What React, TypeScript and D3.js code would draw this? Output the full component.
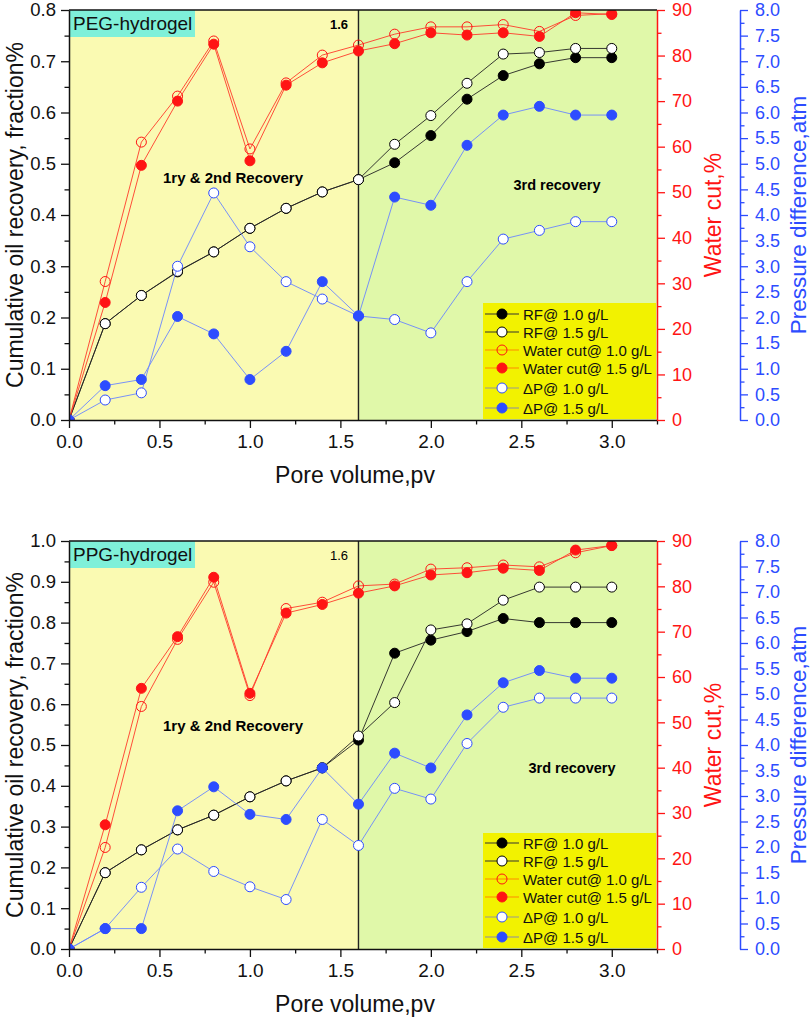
import * as d3 from "d3";
import { useEffect, useRef } from "react";

// pore volume injected (x values shared by every series)
const poreVolume = [0, 0.2, 0.4, 0.6, 0.8, 1.0, 1.2, 1.4, 1.6, 1.8, 2.0, 2.2, 2.4, 2.6, 2.8, 3.0];

// PEG-hydrogel panel
const pegRF10 = [0, 0.188, 0.243, 0.289, 0.328, 0.374, 0.413, 0.445, 0.469, 0.502, 0.555, 0.626, 0.672, 0.695, 0.707, 0.707];
const pegRF15 = [0, 0.188, 0.243, 0.29, 0.328, 0.374, 0.413, 0.445, 0.469, 0.538, 0.594, 0.657, 0.714, 0.717, 0.725, 0.725];
const pegWC10 = [0, 30.4, 61.0, 71.1, 83.2, 59.5, 74.0, 80.1, 82.3, 84.7, 86.3, 86.3, 86.8, 85.3, 88.8, 89.2];
const pegWC15 = [0, 25.8, 55.9, 70.0, 82.5, 56.9, 73.5, 78.4, 81.0, 82.6, 85.0, 84.5, 85.0, 84.2, 89.4, 89.0];
const pegDP10 = [0, 0.39, 0.53, 3.0, 4.43, 3.38, 2.7, 2.36, 2.03, 1.96, 1.7, 2.7, 3.53, 3.7, 3.87, 3.87];
const pegDP15 = [0, 0.67, 0.79, 2.02, 1.68, 0.79, 1.34, 2.7, 2.03, 4.35, 4.19, 5.36, 5.95, 6.12, 5.95, 5.95];

// PPG-hydrogel panel
const ppgRF10 = [0, 0.187, 0.243, 0.292, 0.328, 0.373, 0.412, 0.444, 0.512, 0.725, 0.757, 0.778, 0.81, 0.8, 0.8, 0.8];
const ppgRF15 = [0, 0.187, 0.243, 0.292, 0.328, 0.373, 0.412, 0.444, 0.522, 0.604, 0.782, 0.797, 0.855, 0.887, 0.887, 0.887];
const ppgWC10 = [0, 22.4, 53.5, 68.3, 80.9, 55.9, 75.1, 76.5, 80.1, 80.5, 83.8, 84.1, 84.7, 84.3, 87.4, 89.0];
const ppgWC15 = [0, 27.4, 57.5, 68.9, 82.0, 56.4, 74.1, 76.0, 78.5, 80.1, 82.5, 83.0, 84.0, 83.5, 88.0, 89.0];
const ppgDP10 = [0, 0.4, 1.21, 1.96, 1.52, 1.22, 0.97, 2.54, 2.03, 3.15, 2.94, 4.03, 4.74, 4.92, 4.92, 4.92];
const ppgDP15 = [0, 0.4, 0.4, 2.71, 3.18, 2.64, 2.54, 3.55, 2.84, 3.84, 3.55, 4.59, 5.22, 5.46, 5.31, 5.31];

const legendLabels = ["RF@ 1.0 g/L", "RF@ 1.5 g/L", "Water cut@ 1.0 g/L", "Water cut@ 1.5 g/L", "\u0394P@ 1.0 g/L", "\u0394P@ 1.5 g/L"];

const FONT = "'Liberation Sans', Arial, sans-serif";
const RED = "#ff1414";
const BLUE = "#2d4cff";

interface SeriesStyle {
  axis: "left" | "red" | "blue";
  line: string;
  legendLine: string;
  fill: string;
  stroke: string;
}

const styles: SeriesStyle[] = [
  { axis: "left", line: "#222", legendLine: "#333", fill: "#000", stroke: "#000" },
  { axis: "left", line: "#222", legendLine: "#333", fill: "#fff", stroke: "#000" },
  { axis: "red", line: "#ff3a2a", legendLine: "#ff8a00", fill: "none", stroke: RED },
  { axis: "red", line: "#ff3a2a", legendLine: "#ff8a00", fill: RED, stroke: RED },
  { axis: "blue", line: "#6a86ff", legendLine: "#9a9a90", fill: "#fff", stroke: BLUE },
  { axis: "blue", line: "#6a86ff", legendLine: "#8a8aa8", fill: BLUE, stroke: BLUE },
];

interface Panel {
  id: string;
  top: number;
  bottom: number;
  leftMax: number;
  label: string;
  noteBold: boolean;
  series: number[][];
  recoveryY: number;
  thirdX: number;
  thirdY: number;
  legendTop: number;
  legendRows: number[];
}

const panels: Panel[] = [
  {
    id: "peg", top: 10, bottom: 420, leftMax: 0.8, label: "PEG-hydrogel", noteBold: true,
    series: [pegRF10, pegRF15, pegWC10, pegWC15, pegDP10, pegDP15],
    recoveryY: 183, thirdX: 557, thirdY: 190, legendTop: 303,
    legendRows: [314, 332, 350, 368, 388, 408],
  },
  {
    id: "ppg", top: 541, bottom: 949, leftMax: 1.0, label: "PPG-hydrogel", noteBold: false,
    series: [ppgRF10, ppgRF15, ppgWC10, ppgWC15, ppgDP10, ppgDP15],
    recoveryY: 731, thirdX: 572, thirdY: 773, legendTop: 833,
    legendRows: [843, 861, 879, 897, 917, 937],
  },
];

const X0 = 69;
const X1 = 657;
const XB = 740;

function drawPanel(svg: d3.Selection<SVGSVGElement, unknown, null, undefined>, p: Panel) {
  const x = d3.scaleLinear().domain([0, 3.25]).range([X0, X1]);
  const yL = d3.scaleLinear().domain([0, p.leftMax]).range([p.bottom, p.top]);
  const yR = d3.scaleLinear().domain([0, 90]).range([p.bottom, p.top]);
  const yB = d3.scaleLinear().domain([0, 8]).range([p.bottom, p.top]);
  const scaleFor = { left: yL, red: yR, blue: yB };
  const g = svg.append("g");

  // two shaded recovery stages
  g.append("rect").attr("x", x(0)).attr("y", p.top).attr("width", x(1.6) - x(0))
    .attr("height", p.bottom - p.top).attr("fill", "#fafab2");
  g.append("rect").attr("x", x(1.6)).attr("y", p.top).attr("width", x(3.25) - x(1.6))
    .attr("height", p.bottom - p.top).attr("fill", "#e0f8a9");
  g.append("line").attr("x1", x(1.6)).attr("x2", x(1.6)).attr("y1", p.top).attr("y2", p.bottom)
    .attr("stroke", "#222").attr("stroke-width", 1.4);

  // hydrogel label box
  g.append("rect").attr("x", X0).attr("y", p.top).attr("width", 126).attr("height", 27).attr("fill", "#7ff0d9");
  g.append("text").attr("x", X0 + 4).attr("y", p.top + 20).text(p.label)
    .style("font-family", FONT).style("font-size", "19px").attr("fill", "#111");
  g.append("text").attr("x", 339).attr("y", p.top + 19).attr("text-anchor", "middle").text("1.6")
    .style("font-family", FONT).style("font-size", "13px").style("font-weight", p.noteBold ? "bold" : "normal");
  g.append("text").attr("x", 233).attr("y", p.recoveryY).attr("text-anchor", "middle").text("1ry & 2nd Recovery")
    .style("font-family", FONT).style("font-size", "15px").style("font-weight", "bold");
  g.append("text").attr("x", p.thirdX).attr("y", p.thirdY).attr("text-anchor", "middle").text("3rd recovery")
    .style("font-family", FONT).style("font-size", "14.5px").style("font-weight", "bold");

  // series
  const clipId = `clip-${p.id}`;
  svg.append("clipPath").attr("id", clipId).append("rect")
    .attr("x", X0).attr("y", p.top).attr("width", X1 - X0).attr("height", p.bottom - p.top);
  const plot = g.append("g").attr("clip-path", `url(#${clipId})`);
  p.series.forEach((vals, i) => {
    const st = styles[i];
    const ys = scaleFor[st.axis];
    const line = d3.line<number>().x((_d, j) => x(poreVolume[j])).y(d => ys(d));
    plot.append("path").attr("d", line(vals)).attr("fill", "none")
      .attr("stroke", st.line).attr("stroke-width", 0.9);
    plot.selectAll(null).data(vals).enter().append("circle")
      .attr("cx", (_d, j) => x(poreVolume[j])).attr("cy", d => ys(d)).attr("r", 5)
      .attr("fill", st.fill).attr("stroke", st.stroke).attr("stroke-width", 1);
  });

  // frame
  g.append("line").attr("x1", X0).attr("x2", X1).attr("y1", p.top).attr("y2", p.top)
    .attr("stroke", "#111").attr("stroke-width", 1.5);

  const styleAxis = (sel: d3.Selection<SVGGElement, unknown, null, undefined>, color: string, size: string) => {
    sel.selectAll("path").attr("stroke", color).attr("stroke-width", 1.5);
    sel.selectAll("line").attr("stroke", color).attr("stroke-width", 1.3);
    sel.selectAll("text").attr("fill", color).style("font-family", FONT).style("font-size", size);
  };
  const step = (lo: number, hi: number, s: number) => d3.range(Math.round((hi - lo) / s) + 1).map(k => +(lo + k * s).toFixed(4));

  // left axis
  const minorL = g.append("g").attr("transform", `translate(${X0},0)`)
    .call(d3.axisLeft(yL).tickValues(step(0.05, p.leftMax, 0.1).filter(v => v < p.leftMax)).tickSize(4.5).tickSizeOuter(0).tickFormat(() => ""));
  minorL.select(".domain").remove();
  styleAxis(minorL, "#111", "18.5px");
  const axL = g.append("g").attr("transform", `translate(${X0},0)`)
    .call(d3.axisLeft(yL).tickValues(step(0, p.leftMax, 0.1)).tickSize(8).tickSizeOuter(0).tickPadding(5).tickFormat(d3.format(".1f")));
  styleAxis(axL, "#111", "18.5px");

  // bottom axis
  const minorX = g.append("g").attr("transform", `translate(0,${p.bottom})`)
    .call(d3.axisBottom(x).tickValues(step(0.25, 3.25, 0.5)).tickSize(4.5).tickSizeOuter(0).tickFormat(() => ""));
  minorX.select(".domain").remove();
  styleAxis(minorX, "#111", "19px");
  const axX = g.append("g").attr("transform", `translate(0,${p.bottom})`)
    .call(d3.axisBottom(x).tickValues(step(0, 3.0, 0.5)).tickSize(8).tickSizeOuter(0).tickPadding(7).tickFormat(d3.format(".1f")));
  styleAxis(axX, "#111", "19px");

  // water cut axis
  const minorR = g.append("g").attr("transform", `translate(${X1},0)`)
    .call(d3.axisRight(yR).tickValues(step(5, 85, 10)).tickSize(4.5).tickSizeOuter(0).tickFormat(() => ""));
  minorR.select(".domain").remove();
  styleAxis(minorR, RED, "18px");
  const axR = g.append("g").attr("transform", `translate(${X1},0)`)
    .call(d3.axisRight(yR).tickValues(step(0, 90, 10)).tickSize(8).tickSizeOuter(0).tickPadding(7).tickFormat(d3.format("d")));
  styleAxis(axR, RED, "18px");

  // pressure axis
  const minorB = g.append("g").attr("transform", `translate(${XB},0)`)
    .call(d3.axisRight(yB).tickValues(step(0.25, 7.75, 0.5)).tickSize(4.5).tickSizeOuter(0).tickFormat(() => ""));
  minorB.select(".domain").remove();
  styleAxis(minorB, BLUE, "18px");
  const axB = g.append("g").attr("transform", `translate(${XB},0)`)
    .call(d3.axisRight(yB).tickValues(step(0, 8, 0.5)).tickSize(8).tickSizeOuter(0).tickPadding(7).tickFormat(d3.format(".1f")));
  styleAxis(axB, BLUE, "18px");

  // axis titles
  const mid = (p.top + p.bottom) / 2;
  g.append("text").attr("transform", `translate(23,${mid}) rotate(-90)`).attr("text-anchor", "middle")
    .text("Cumulative oil recovery, fraction%").style("font-family", FONT).style("font-size", "23px").attr("fill", "#111");
  g.append("text").attr("transform", `translate(721,${mid}) rotate(-90)`).attr("text-anchor", "middle")
    .text("Water cut,%").style("font-family", FONT).style("font-size", "23px").attr("fill", RED);
  g.append("text").attr("transform", `translate(806,${mid}) rotate(-90)`).attr("text-anchor", "middle")
    .text("Pressure difference,atm").style("font-family", FONT).style("font-size", "22.5px").attr("fill", BLUE);
  g.append("text").attr("x", (X0 + X1) / 2 - 8).attr("y", p.bottom + 63).attr("text-anchor", "middle")
    .text("Pore volume,pv").style("font-family", FONT).style("font-size", "23px").attr("fill", "#111");

  // legend
  const lg = g.append("g");
  lg.append("rect").attr("x", 483).attr("y", p.legendTop).attr("width", X1 - 483 - 1)
    .attr("height", p.bottom - p.legendTop - 1).attr("fill", "#f2f200");
  legendLabels.forEach((lab, i) => {
    const st = styles[i];
    const yy = p.legendRows[i];
    lg.append("line").attr("x1", 485).attr("x2", 519).attr("y1", yy).attr("y2", yy)
      .attr("stroke", st.legendLine).attr("stroke-width", 1);
    lg.append("circle").attr("cx", 502).attr("cy", yy).attr("r", 5)
      .attr("fill", st.fill).attr("stroke", st.stroke).attr("stroke-width", 1);
    lg.append("text").attr("x", 523).attr("y", yy + 5.5).text(lab)
      .style("font-family", FONT).style("font-size", "15px").attr("fill", "#111");
  });
}

export default function App() {
  const ref = useRef<SVGSVGElement>(null);

  useEffect(() => {
    if (!ref.current) return;
    const svg = d3.select(ref.current);
    svg.selectAll("*").remove();
    panels.forEach(p => drawPanel(svg, p));
  }, []);

  return (
    <div style={{ position: "absolute", left: 0, top: 0 }}>
      <svg ref={ref} width={812} height={1019} style={{ display: "block", background: "#fff" }} />
    </div>
  );
}
